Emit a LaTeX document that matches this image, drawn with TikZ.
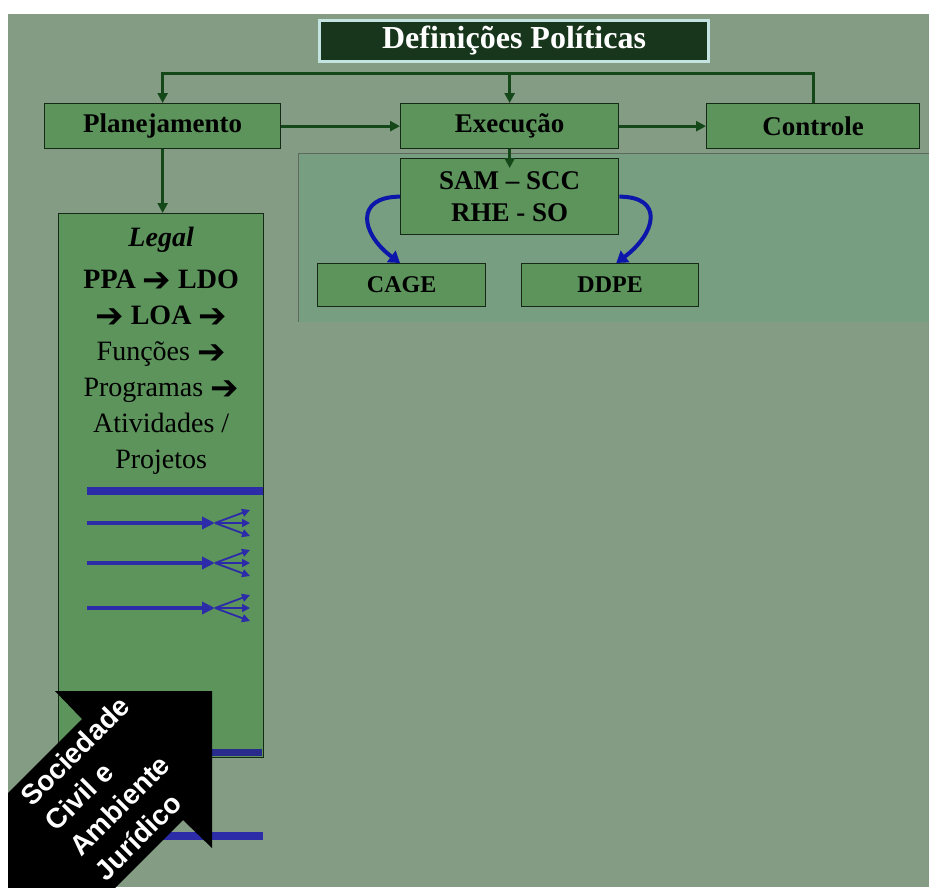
\documentclass[tikz,border=0pt]{standalone}
\usepackage{fontspec}
\setmainfont{Liberation Serif}
\setsansfont{Liberation Sans}
\newfontfamily\arrowfont{DejaVu Sans}
\usepackage{tikz}
\usetikzlibrary{arrows.meta, positioning}
\definecolor{bggreen}{RGB}{132,156,132}
\definecolor{panelgreen}{RGB}{119,158,129}
\definecolor{boxgreen}{RGB}{92,148,92}
\definecolor{darkline}{RGB}{22,40,22}
\definecolor{flowgreen}{RGB}{20,72,24}
\definecolor{titlegreen}{RGB}{24,54,28}
\definecolor{titleedge}{RGB}{196,228,226}
\definecolor{barblue}{RGB}{44,44,168}
\definecolor{curveblue}{RGB}{12,22,170}
\newcommand{\nextarr}{\raisebox{-3pt}{\arrowfont\fontsize{34}{34}\selectfont ➔}}

\begin{document}
\begin{tikzpicture}[
          x=1pt, y=-1pt,
          box/.style={
            rectangle, draw=darkline, fill=boxgreen, line width=1.3pt,
            inner sep=0pt, anchor=north west, minimum height=45pt,
            font=\fontsize{27}{30}\selectfont\bfseries, text=black
          },
          smallbox/.style={box, minimum height=43pt,
            font=\fontsize{24}{27}\selectfont\bfseries},
          titlebox/.style={
            rectangle, draw=titleedge, fill=titlegreen, line width=3pt,
            inner sep=0pt, anchor=north west,
            minimum width=389pt, minimum height=41pt,
            font=\fontsize{32}{34}\selectfont\bfseries, text=white
          },
          flow/.style={
            -{Triangle[length=10pt, width=10pt]}, line width=3pt, color=flowgreen
          },
          curvearrow/.style={
            -{Triangle[length=11pt, width=14pt]}, line width=4pt, color=curveblue
          },
          legaltext/.style={
            inner sep=0pt, align=center, text=black,
            font=\fontsize{28}{36}\selectfont\bfseries
          },
          fanline/.style={-{Triangle[length=8pt, width=8pt]}, line width=1.8pt, color=barblue},
          society/.style={
            inner sep=0pt, align=left, text=white, rotate=45,
            font=\sffamily\bfseries\fontsize{28}{35}\selectfont
          }
        ]
          \useasboundingbox (0,0) rectangle (929,887);
          \fill[white] (0,0) rectangle (929,887);
          \fill[bggreen] (8,14) rectangle (929,887);
          \fill[panelgreen] (298,153) rectangle (929,322);
          \draw[darkline!70, line width=1pt] (298,322) |- (929,153);

          \node[titlebox] (title) at (318,19) {Definições Políticas};
          \node[box, minimum width=236pt] (plan) at (44,103) {Planejamento};
          \node[box, minimum width=218pt] (exec) at (400,103) {Execução};
          \node[box, minimum width=213pt] (ctrl) at (706,103) {Controle};
          \node[box, minimum width=218pt, minimum height=76pt,
                font=\fontsize{27}{32}\selectfont\bfseries, align=center]
                (sam) at (400,158) {SAM – SCC\\RHE - SO};
          \node[smallbox, minimum width=168pt] (cage) at (317,263) {CAGE};
          \node[smallbox, minimum width=177pt] (ddpe) at (521,263) {DDPE};
          \node[box, minimum width=205pt, minimum height=544pt] (legal) at (58,213) {};
          \node[legaltext, anchor=north] (legaltxt) at ([yshift=-14pt]legal.north)
                {\textit{Legal}\\[6pt]
                 PPA \nextarr{} LDO\\
                 \nextarr{} LOA \nextarr\\
                 \mdseries Funções \nextarr\\
                 \mdseries Programas \nextarr\\
                 \mdseries Atividades /\\
                 \mdseries Projetos};

          \coordinate (bus) at (0,73);
          \draw[flow] (ctrl.north) -- (ctrl.north |- bus) -| (plan.north);
          \draw[flow] (exec.north |- bus) -- (exec.north);
          \draw[flow] (plan.east) -- (exec.west);
          \draw[flow] (exec.east) -- (ctrl.west);
          \draw[flow] (plan.south) -- (plan.south |- legal.north);
          \draw[flow] (exec.south) -- ([yshift=-10pt]sam.north);

          \draw[curvearrow] (sam.west) .. controls +(-45,0) and +(-40,-30) .. (sam.west |- cage.north);
          \draw[curvearrow] (sam.east) .. controls +(45,0) and +(40,-30) .. ([xshift=-3pt]sam.east |- ddpe.north);

          % bars and arrows inside the legal box
          \draw[barblue, line width=8pt] (87,491) -- (263,491);
          \foreach \yy in {523,563,608} {
            \draw[barblue, line width=4pt, -{Triangle[length=13pt, width=12pt]}] (87,\yy) -- (215,\yy);
            \draw[fanline] (215,\yy) -- (250,\yy-13);
            \draw[fanline] (215,\yy) -- (250,\yy);
            \draw[fanline] (215,\yy) -- (250,\yy+13);
          }
          \fill[barblue!80!darkline] (58.6,749) rectangle (262.4,756.4);
          \draw[barblue, line width=8pt] (87,836) -- (263,836);

          \begin{scope}
            \clip (8,14) rectangle (929,887);
            \fill[black] (212,691) -- (55,691) -- (82,719) -- (-118,919)
                         -- (-17,1020) -- (183,820) -- (212,848) -- cycle;
            \node[society, anchor=west] (civil) at (62,838) {Sociedade\\Civil e\\Ambiente\\Jurídico};
          \end{scope}
        \end{tikzpicture}
\end{document}
